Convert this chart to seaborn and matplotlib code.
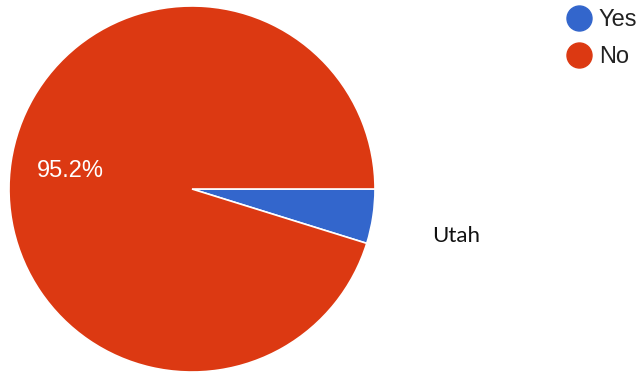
import matplotlib
matplotlib.use("Agg")
import matplotlib.pyplot as plt
from matplotlib.lines import Line2D
import seaborn as sns

labels = ["Yes", "No"]
values = [4.8, 95.2]
colors = ["#3366CC", "#DC3912"]
state = "Utah"

sns.set_theme(style="white")
plt.rcParams["font.family"] = ["Liberation Sans", "DejaVu Sans"]

W, H = 639, 373
fig = plt.figure(figsize=(W / 100, H / 100), dpi=100)
cx, cy, r = 192, 189, 183
ax = fig.add_axes([(cx - r) / W, (H - cy - r) / H, 2 * r / W, 2 * r / H])

def pct_label(p):
    return f"{p:.1f}%" if p > 10 else ""

wedges, texts, autotexts = ax.pie(
    values,
    colors=colors,
    startangle=0,
    counterclock=False,
    radius=1.0,
    autopct=pct_label,
    pctdistance=0.67,
    wedgeprops=dict(edgecolor="white", linewidth=1.2),
    textprops=dict(color="white", fontsize=17),
)
ax.set_xlim(-1, 1)
ax.set_ylim(-1, 1)
ax.set_aspect("equal")
ax.axis("off")

handles = [
    Line2D([0], [0], marker="o", linestyle="", markersize=18,
           markerfacecolor=c, markeredgecolor=c)
    for c in colors
]
leg = fig.legend(
    handles, labels,
    loc="upper left",
    bbox_to_anchor=(555 / W, 1 - 0 / H),
    frameon=False,
    fontsize=17,
    handletextpad=0.25,
    labelspacing=0.62,
    handlelength=1.2,
    borderaxespad=0,
)
for t in leg.get_texts():
    t.set_color("#222222")

fig.text(432 / W, 1 - 236 / H, state, fontsize=16, color="#111111",
         family=["Lato", "DejaVu Sans"], va="center", ha="left")

fig.savefig("out.png", dpi=100)
